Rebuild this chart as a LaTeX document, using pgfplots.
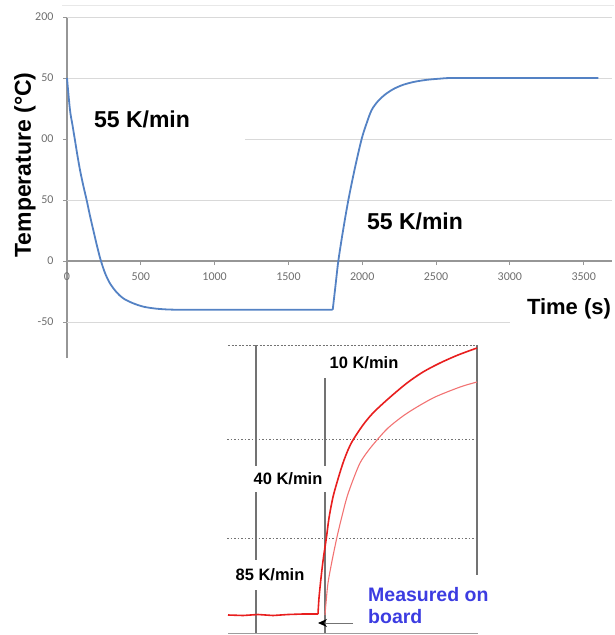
\documentclass[border=0pt]{standalone}
\usepackage{fontspec}
\setmainfont{Liberation Sans}
\newfontfamily\tickfont{Carlito}
\usepackage{pgfplots}
\pgfplotsset{compat=1.18}
\usetikzlibrary{arrows.meta}
\definecolor{curveblue}{RGB}{84,130,196}
\definecolor{gridgray}{RGB}{217,217,217}
\definecolor{axisgray}{RGB}{150,150,150}
\definecolor{labgray}{RGB}{110,110,110}
\definecolor{redA}{RGB}{232,30,30}
\definecolor{redB}{RGB}{242,115,115}
\definecolor{insetgray}{RGB}{115,115,115}
\definecolor{mblue}{RGB}{60,60,225}
\begin{document}
\begin{tikzpicture}
\useasboundingbox (0,0) rectangle (614pt,-635pt);
\draw[gridgray!60, line width=0.8pt] (62pt,-5pt) -- (614pt,-5pt);
\begin{axis}[
  scale only axis, width=545pt, height=341pt,
  at={(67pt,-358pt)}, anchor=south west,
  xmin=0, xmax=3692, ymin=-79.5, ymax=200,
  axis x line=middle, axis y line=left,
  hide obscured x ticks=false, hide obscured y ticks=false,
  axis line style={axisgray, line width=1.2pt, -},
  xtick={0,500,...,3500}, xticklabels={0,500,1000,1500,2000,2500,3000,3500},
  ytick={-50,0,50,100,150,200}, yticklabels={-50,0,50,00,50,200},
  tick style={axisgray, line width=0.8pt},
  major tick length=4pt, tick align=outside,
  ticklabel style={font=\tickfont\fontsize{12}{12}\selectfont, text=labgray},
  xticklabel style={yshift=-4pt},
  yticklabel style={xshift=-6pt},
  clip=false,
]
\draw[gridgray, line width=1pt] (axis cs:0,200) -- (axis cs:3692,200);
\draw[gridgray, line width=1pt] (axis cs:0,150) -- (axis cs:3692,150);
\draw[gridgray, line width=1pt] (axis cs:1206,100) -- (axis cs:3692,100);
\draw[gridgray, line width=1pt] (axis cs:0,50) -- (axis cs:3692,50);
\draw[gridgray, line width=1pt] (axis cs:0,-50) -- (axis cs:3001,-50);
\addplot[curveblue, line width=1.8pt, no marks, smooth, tension=0.5] coordinates {
(0,150) (20,124) (37,111.5) (54,99) (70,87) (88,74.6) (110,62) (133,50)
(155,37.5) (178,25.4) (203,12.5) (228,0.8) (258,-10) (291,-18.3) (335,-25.5)
(381,-30.6) (445,-34.5) (517,-37.4) (600,-39) (698,-39.8) (850,-40) (1300,-40) (1800,-40)
};
\addplot[curveblue, line width=1.8pt, no marks, smooth, tension=0.5] coordinates {
(1800,-40)
(1819,-20) (1838,0) (1870,25) (1906,50) (1950,76) (1996,100) (2030,113)
(2064,123.8) (2110,131.5) (2166,137.5) (2220,141.5) (2279,144.5) (2350,146.8)
(2437,148.5) (2530,149.5) (2615,150) (3000,150) (3600,150)
};
\end{axis}
\begin{axis}[
  scale only axis, width=250pt, height=288pt,
  at={(228pt,-633pt)}, anchor=south west,
  xmin=0, xmax=250, ymin=0, ymax=288,
  hide axis, clip=false,
]
\draw[insetgray, line width=1pt, dash pattern=on 2pt off 1.5pt] (axis cs:0,288) -- (axis cs:250,288);
\draw[insetgray, line width=1pt, dash pattern=on 1.5pt off 2pt] (axis cs:-1,194) -- (axis cs:250,194);
\draw[insetgray, line width=1pt, dash pattern=on 1.5pt off 2pt] (axis cs:-1,95) -- (axis cs:250,95);
\draw[insetgray!70, line width=1pt] (axis cs:0,0) -- (axis cs:250,0);
\draw[insetgray, line width=1.2pt] (axis cs:28,288) -- (axis cs:28,0);
\draw[insetgray, line width=1.2pt] (axis cs:97,255) -- (axis cs:97,0);
\draw[insetgray, line width=1.2pt] (axis cs:249,288) -- (axis cs:249,58);
\addplot[redB, line width=1.1pt, no marks, smooth, tension=0.5] coordinates {
(97,18) (98,30) (100,50) (104,72) (109,96) (114,117) (119,136) (125,153)
(132,170) (140,182) (149,193) (160,205) (175,217) (189,226) (205,235)
(219,241) (235,247) (249,251)
};
\addplot[redA, line width=1.6pt, no marks] coordinates {
(0,18) (15,17.5) (30,18.5) (45,17.5) (60,18.5) (75,19) (90,19)
};
\addplot[redA, line width=1.6pt, no marks, smooth, tension=0.5] coordinates {
(90,19) (91,35) (93,55) (95,72) (97,86) (98.5,96) (101,115) (105,136) (110,154)
(115,170) (120,183) (125,193) (135,208) (145,220) (160,234) (179,250)
(195,261) (212,270) (230,278) (249,285)
};
\draw[insetgray, line width=1pt, -{Stealth[black, length=9pt, width=8pt]}] (axis cs:125,10) -- (axis cs:90,10);
\end{axis}
\node[font=\bfseries\fontsize{23}{23}\selectfont, rotate=90] at (25pt,-165pt) {Temperature (°C)};
\node[font=\bfseries\fontsize{23}{23}\selectfont] at (142pt,-119pt) {55 K/min};
\node[font=\bfseries\fontsize{23}{23}\selectfont] at (415pt,-221pt) {55 K/min};
\node[font=\bfseries\fontsize{22}{22}\selectfont] at (569pt,-309pt) {Time (s)};
\node[font=\bfseries\fontsize{16.5}{16.5}\selectfont] at (364pt,-363pt) {10 K/min};
\node[font=\bfseries\fontsize{16.5}{16.5}\selectfont, fill=white, inner xsep=4pt, inner ysep=7pt] at (288pt,-479pt) {40 K/min};
\node[font=\bfseries\fontsize{16.5}{16.5}\selectfont, fill=white, inner xsep=3pt, inner ysep=9pt] at (270pt,-575pt) {85 K/min};
\node[font=\bfseries\fontsize{19.5}{19.5}\selectfont, text=mblue, anchor=base west, inner sep=0pt] at (368pt,-601pt) {Measured on};
\node[font=\bfseries\fontsize{19.5}{19.5}\selectfont, text=mblue, anchor=base west, inner sep=0pt] at (368pt,-623pt) {board};
\end{tikzpicture}
\end{document}
